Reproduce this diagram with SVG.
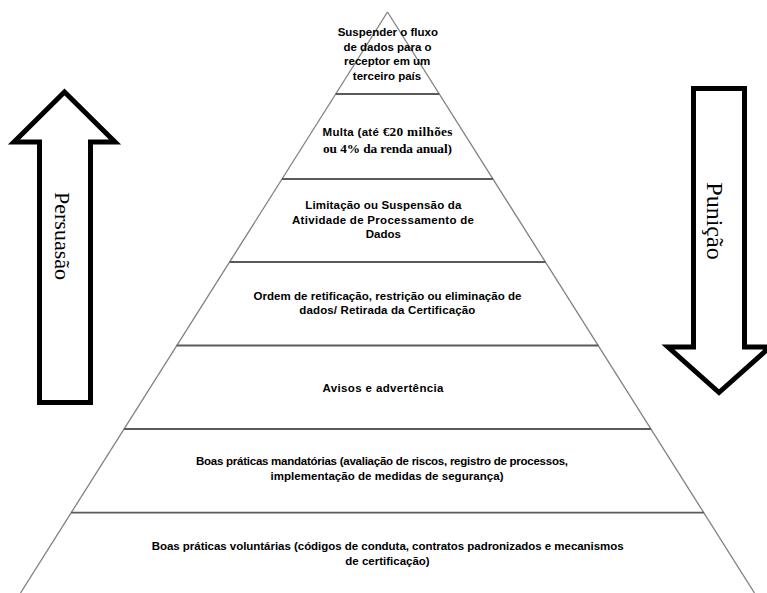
<svg xmlns="http://www.w3.org/2000/svg" width="767" height="593" viewBox="0 0 767 593">
<style>
.edge{stroke:#808080;stroke-width:1.3;fill:none}
.tier{stroke:#5a5a5a;stroke-width:1.8;fill:none}
.arrow{fill:#fff;stroke:#000;stroke-width:5;stroke-linejoin:miter;stroke-miterlimit:10}
.lbl{font-family:"Liberation Sans",Arial,sans-serif;font-weight:bold;font-size:11.5px;fill:#000;text-anchor:middle}
.ser{font-family:"Liberation Serif","Times New Roman",serif;font-weight:bold;font-size:13.3px}
.side{font-family:"Liberation Serif","Times New Roman",serif;font-size:22px;fill:#000;text-anchor:middle}
</style>
<rect width="767" height="593" fill="#fff"/>
<g id="connectors">
<line class="edge" x1="387.5" y1="12" x2="20.5" y2="593"/>
<line class="edge" x1="387.5" y1="12" x2="754.5" y2="593"/>
</g>
<g id="arrow-persuasao">
<path class="arrow" d="M64.5,92 L115,142 L90.5,142 L90.5,402.5 L39.5,402.5 L39.5,142 L14,142 Z"/>
<text class="side" transform="translate(54.5,236) rotate(90)">Persuasão</text>
</g>
<g id="arrow-punicao">
<path class="arrow" d="M693.5,88.5 L744.5,88.5 L744.5,347 L770,347 L719,392.5 L668,347 L693.5,347 Z"/>
<text class="side" transform="translate(707,221) rotate(90)" style="font-size:24px">Punição</text>
</g>
<g id="tier1">
<text class="lbl" x="387.8" y="36">Suspender o fluxo</text>
<text class="lbl" x="387.5" y="50.5">de dados para o</text>
<text class="lbl" x="387.2" y="65">receptor em um</text>
<text class="lbl" x="387" y="79.5">terceiro país</text>
</g>
<g id="tier2">
<line class="tier" x1="335.7" y1="94" x2="439.3" y2="94"/>
<text class="lbl" x="387.5" y="136" textLength="130">Multa (até <tspan class="ser">€20 milhões</tspan></text>
<text class="lbl ser" x="387.5" y="153" textLength="129">ou 4% da renda anual)</text>
</g>
<g id="tier3">
<line class="tier" x1="282" y1="179" x2="493" y2="179"/>
<text class="lbl" x="383.3" y="209.3" textLength="156">Limitação ou Suspensão da</text>
<text class="lbl" x="383" y="224" textLength="182">Atividade de Processamento de</text>
<text class="lbl" x="383.3" y="238.3">Dados</text>
</g>
<g id="tier4">
<line class="tier" x1="229.5" y1="262" x2="545.5" y2="262"/>
<text class="lbl" x="387.5" y="300" textLength="268">Ordem de retificação, restrição ou eliminação de</text>
<text class="lbl" x="387.3" y="314" textLength="176">dados/ Retirada da Certificação</text>
</g>
<g id="tier5">
<line class="tier" x1="176.7" y1="345.5" x2="598.3" y2="345.5"/>
<text class="lbl" x="383" y="392" textLength="121">Avisos e advertência</text>
</g>
<g id="tier6">
<line class="tier" x1="124" y1="429" x2="651" y2="429"/>
<text class="lbl" x="382" y="465" textLength="372">Boas práticas mandatórias (avaliação de riscos, registro de processos,</text>
<text class="lbl" x="387" y="480" textLength="233">implementação de medidas de segurança)</text>
</g>
<g id="tier7">
<line class="tier" x1="71.1" y1="512.7" x2="703.9" y2="512.7"/>
<text class="lbl" x="387.7" y="550" textLength="472">Boas práticas voluntárias (códigos de conduta, contratos padronizados e mecanismos</text>
<text class="lbl" x="387.5" y="565">de certificação)</text>
</g>
</svg>
